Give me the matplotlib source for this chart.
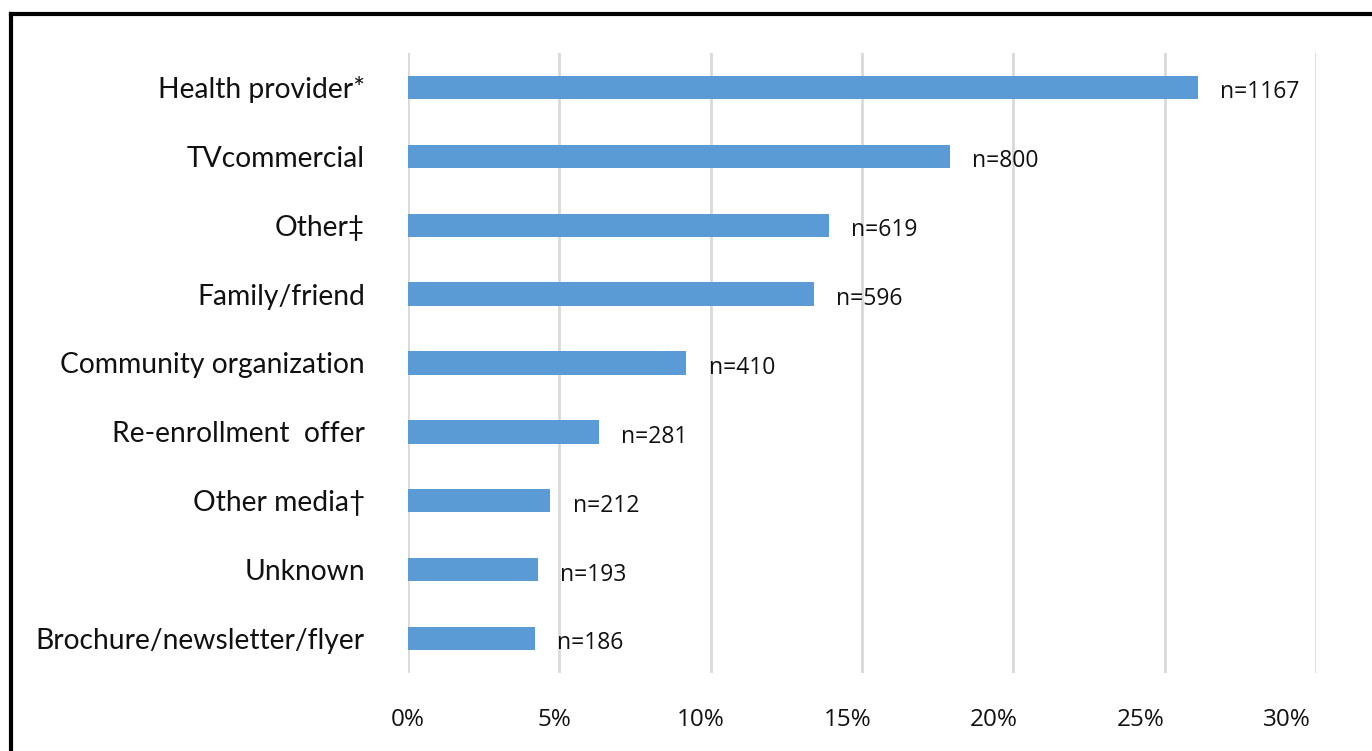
import matplotlib
matplotlib.use("Agg")
import matplotlib.pyplot as plt
from matplotlib.ticker import FuncFormatter
from matplotlib.lines import Line2D

# Referral sources, listed top to bottom
categories = [
    "Health provider*",
    "TVcommercial",
    "Other\u2021",
    "Family/friend",
    "Community organization",
    "Re-enrollment  offer",
    "Other media\u2020",
    "Unknown",
    "Brochure/newsletter/flyer",
]
percent = [26.1, 17.9, 13.9, 13.4, 9.2, 6.3, 4.7, 4.3, 4.2]
counts = [1167, 800, 619, 596, 410, 281, 212, 193, 186]
x_ticks = [0, 5, 10, 15, 20, 25, 30]

fig = plt.figure(figsize=(13.72, 7.51), dpi=100)
ax = fig.add_axes([0.2974, 0.1039, 0.6618, 0.8255])

ypos = list(range(len(categories)))
ax.barh(ypos, percent, height=0.34, color="#5B9BD5", zorder=3)

for y, v, n in zip(ypos, percent, counts):
    ax.annotate(f"n={n}", xy=(v, y), xytext=(16, -3.5), textcoords="offset points",
                ha="left", va="center", fontsize=16.5, family="Open Sans",
                color="#111111")

ax.set_xlim(0, 30)
ax.set_ylim(len(categories) - 0.5, -0.5)
ax.set_xticks(x_ticks)
ax.set_xticklabels([])
ax.set_yticks(ypos)
ax.set_yticklabels(categories, family="Lato", fontsize=20.3, color="#111111")

ax.grid(axis="x", color="#D9D9D9", linewidth=2, zorder=0)
ax.tick_params(axis="both", length=0)
ax.tick_params(axis="y", pad=31)
for s in ax.spines.values():
    s.set_visible(False)

# percentage labels sit on a slightly tighter scale than the gridlines
lab = ax.twiny()
lab.set_xlim(0.10, 30.99)
lab.xaxis.set_ticks_position("bottom")
lab.set_xticks(x_ticks)
lab.xaxis.set_major_formatter(FuncFormatter(lambda v, p: f"{v:.0f}%"))
lab.tick_params(axis="x", length=0, pad=25, labelsize=17.5, labelcolor="#111111")
for lbl in lab.get_xticklabels():
    lbl.set_family("Open Sans")
for s in lab.spines.values():
    s.set_visible(False)

# outer frame (top and left edges)
fig.add_artist(Line2D([0.0080, 1.0], [0.9815, 0.9815], color="black", lw=3,
                      transform=fig.transFigure))
fig.add_artist(Line2D([0.0080, 0.0080], [0.0, 0.9815], color="black", lw=3,
                      transform=fig.transFigure))

fig.savefig("out.png", dpi=100)
